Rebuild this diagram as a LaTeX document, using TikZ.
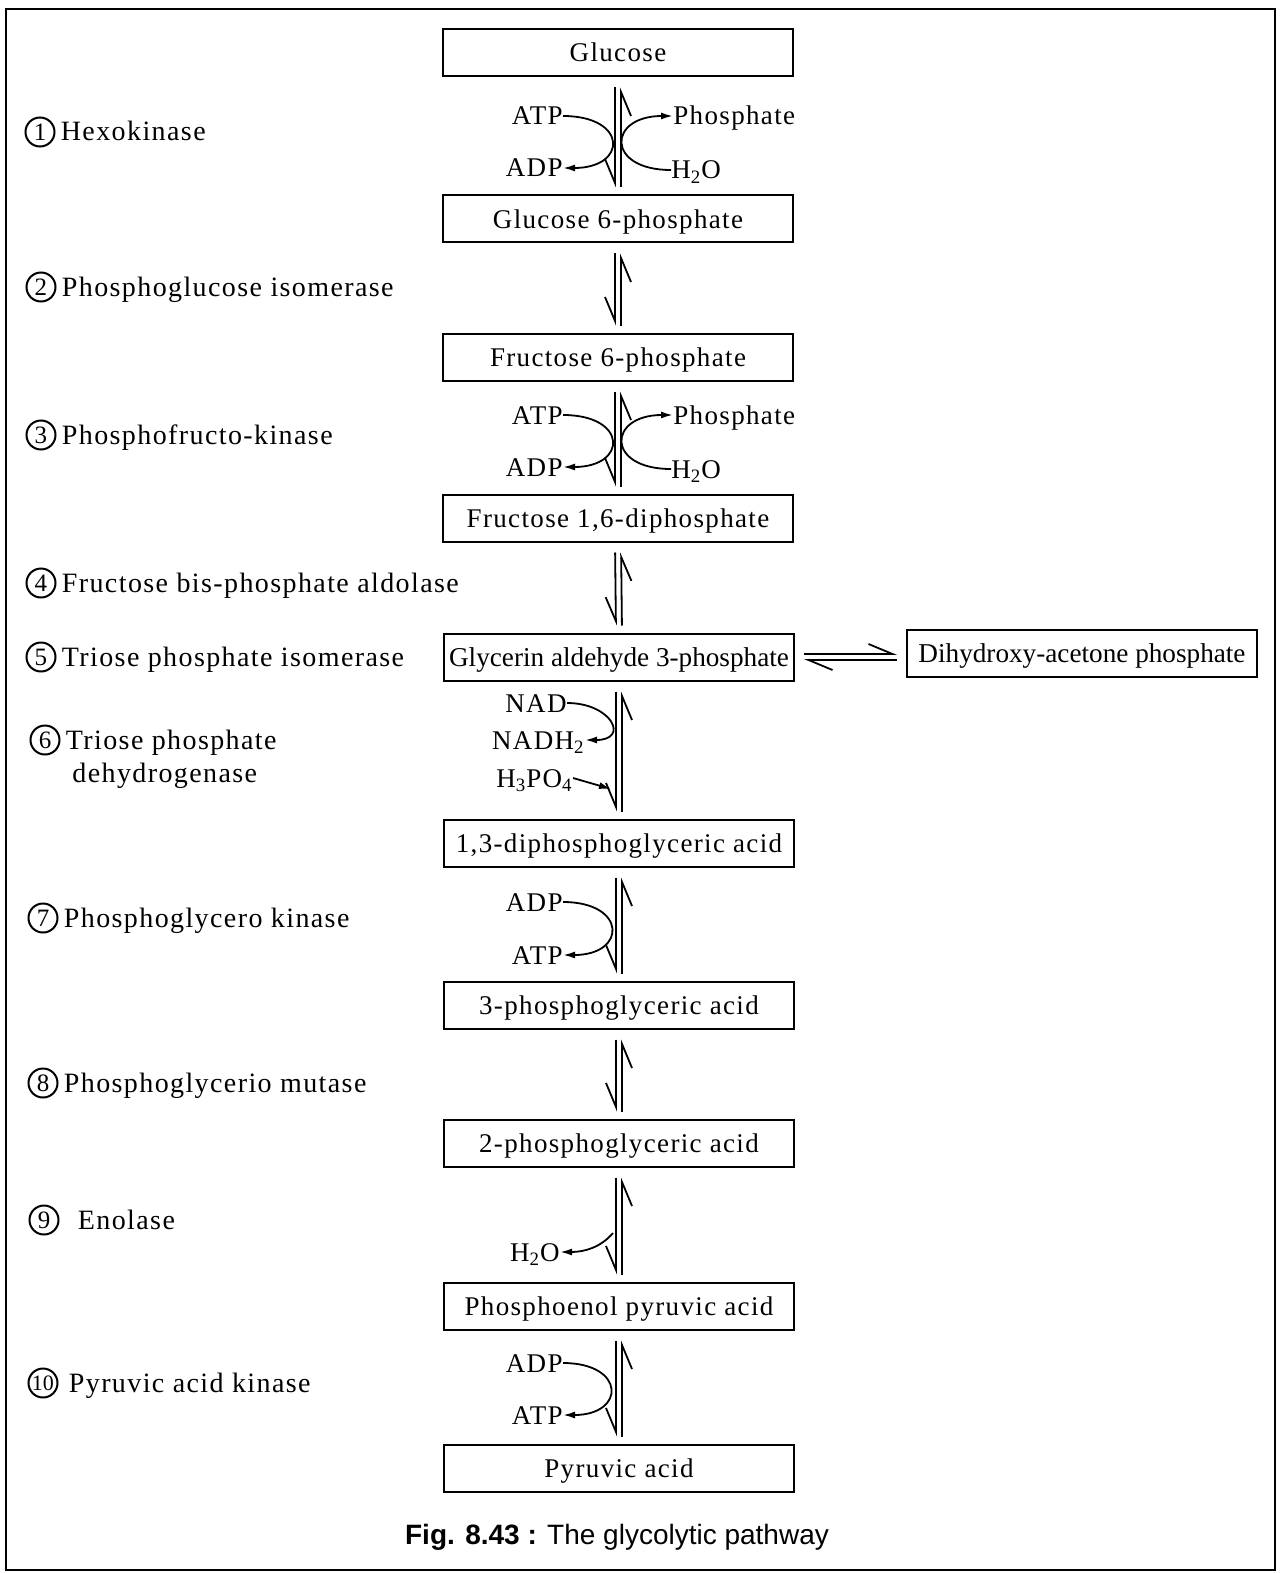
\documentclass[tikz,border=0pt]{standalone}
\usepackage{fontspec}
\setmainfont{Liberation Serif}
\newfontfamily\spaced[LetterSpace=5]{Liberation Serif}
\newfontfamily\capfont{Liberation Sans}
\usetikzlibrary{arrows.meta,positioning}

\begin{document}
\begin{tikzpicture}[x=0.5pt, y=-0.5pt,
  every node/.style={inner sep=0pt},
  box/.style={draw, line width=1pt, minimum width=175pt, minimum height=23.5pt, text height=10pt, text depth=1pt, font=\spaced\fontsize{13.5}{16}\selectfont},
  wide/.style={box, font=\fontsize{13.6}{16}\selectfont},
  lab/.style={text height=10pt, text depth=1pt, font=\spaced\fontsize{13.5}{16}\selectfont},
  enz/.style={lab, font=\spaced\fontsize{14}{16}\selectfont},
  num/.style={circle, draw, line width=1pt, minimum size=14.5pt, font=\fontsize{12.5}{12.5}\selectfont},
  fwd/.style={line width=0.9pt, shorten <=5pt, shorten >=3.5pt, -{Straight Barb[right, length=12pt, width=10pt]}},
  rev/.style={line width=0.9pt, shorten <=3.5pt, shorten >=5pt, -{Straight Barb[right, length=12pt, width=10pt]}},
  hor/.style={line width=0.9pt, shorten <=4.5pt, shorten >=4.5pt, -{Straight Barb[left, length=12pt, width=10pt]}},
  side/.style={line width=0.9pt, -{Latex[length=6pt, width=3.5pt]}}
]
\useasboundingbox (0,0) rectangle (1281,1573);
\draw[line width=1.2pt] (6,9) rectangle (1275,1570);

% metabolites
\node[box] (glc) at (618,53) {Glucose};
\node[box] (g6p) at (618,219) {Glucose 6-phosphate};
\node[box] (f6p) at (618,357) {Fructose 6-phosphate};
\node[box] (f16) at (618,518) {Fructose 1,6-diphosphate};
\node[wide] (ga3p) at (619,657) {Glycerin aldehyde 3-phosphate};
\node[wide] (dhap) at (1082,653) {Dihydroxy-acetone phosphate};
\node[box] (dpg) at (619,843) {1,3-diphosphoglyceric acid};
\node[box] (pg3) at (619,1005) {3-phosphoglyceric acid};
\node[box] (pg2) at (619,1143) {2-phosphoglyceric acid};
\node[box] (pep) at (619,1306) {Phosphoenol pyruvic acid};
\node[box] (pyr) at (619,1468) {Pyruvic acid};

% equilibrium arrows
\draw[fwd] ([xshift=-1.5pt]glc.south) -- ([xshift=-1.5pt]g6p.north);
\draw[rev] ([xshift=1.5pt]g6p.north) -- ([xshift=1.5pt]glc.south);
\draw[fwd] ([xshift=-1.5pt]g6p.south) -- ([xshift=-1.5pt]f6p.north);
\draw[rev] ([xshift=1.5pt]f6p.north) -- ([xshift=1.5pt]g6p.south);
\draw[fwd] ([xshift=-1.5pt]f6p.south) -- ([xshift=-1.5pt]f16.north);
\draw[rev] ([xshift=1.5pt]f16.north) -- ([xshift=1.5pt]f6p.south);
\draw[fwd] ([xshift=-1.5pt]f16.south) -- ([xshift=-1.5pt]ga3p.north);
\draw[rev] ([xshift=1.5pt]ga3p.north) -- ([xshift=1.5pt]f16.south);
\draw[fwd] ([xshift=-1.5pt]ga3p.south) -- ([xshift=-1.5pt]dpg.north);
\draw[rev] ([xshift=1.5pt]dpg.north) -- ([xshift=1.5pt]ga3p.south);
\draw[fwd] ([xshift=-1.5pt]dpg.south) -- ([xshift=-1.5pt]pg3.north);
\draw[rev] ([xshift=1.5pt]pg3.north) -- ([xshift=1.5pt]dpg.south);
\draw[fwd] ([xshift=-1.5pt]pg3.south) -- ([xshift=-1.5pt]pg2.north);
\draw[rev] ([xshift=1.5pt]pg2.north) -- ([xshift=1.5pt]pg3.south);
\draw[fwd] ([xshift=-1.5pt]pg2.south) -- ([xshift=-1.5pt]pep.north);
\draw[rev] ([xshift=1.5pt]pep.north) -- ([xshift=1.5pt]pg2.south);
\draw[fwd] ([xshift=-1.5pt]pep.south) -- ([xshift=-1.5pt]pyr.north);
\draw[rev] ([xshift=1.5pt]pyr.north) -- ([xshift=1.5pt]pep.south);
\draw[hor] ([yshift=1.5pt]ga3p.east) -- ([yshift=1.5pt]dhap.west |- ga3p.east);
\draw[hor] ([yshift=-1.5pt]dhap.west |- ga3p.east) -- ([yshift=-1.5pt]ga3p.east);

% side reactants
\node[lab, anchor=east] (atp1) at (563,116) {ATP};
\node[lab, anchor=east] (adp1) at (563,168) {ADP};
\node[lab, anchor=west] (pho1) at (673,116) {Phosphate};
\node[lab, anchor=west] (wat1) at (671,170) {H\textsubscript{2}O};
\draw[side] (atp1.east) to[out=0, in=0, looseness=3.2] (adp1.east);
\draw[side] (wat1.west) to[out=180, in=180, looseness=3.1] (pho1.west);

\node[lab, anchor=east] (atp3) at (563,415) {ATP};
\node[lab, anchor=east] (adp3) at (563,467) {ADP};
\node[lab, anchor=west] (pho3) at (673,415) {Phosphate};
\node[lab, anchor=west] (wat3) at (671,469) {H\textsubscript{2}O};
\draw[side] (atp3.east) to[out=0, in=0, looseness=3.2] (adp3.east);
\draw[side] (wat3.west) to[out=180, in=180, looseness=3.1] (pho3.west);

\node[lab, anchor=east] (nad) at (567,703) {NAD};
\node[lab, anchor=east] (nadh) at (585,740) {NADH\textsubscript{2}};
\node[lab, anchor=east] (hpo) at (573,778) {H\textsubscript{3}PO\textsubscript{4}};
\coordinate (h6) at (611,789);
\draw[side] (nad.east) to[out=0, in=0, looseness=2.8] (nadh.east);
\draw[side] (hpo.east) -- (h6);

\node[lab, anchor=east] (adp7) at (563,902) {ADP};
\node[lab, anchor=east] (atp7) at (563,955) {ATP};
\draw[side] (adp7.east) to[out=0, in=0, looseness=3.1] (atp7.east);

\node[lab, anchor=east] (wat9) at (560,1252) {H\textsubscript{2}O};
\coordinate (w9) at (613,1233);
\draw[side] (w9) .. controls +(-12,14) and +(25,0) .. (wat9.east);

\node[lab, anchor=east] (adp10) at (563,1363) {ADP};
\node[lab, anchor=east] (atp10) at (563,1415) {ATP};
\draw[side] (adp10.east) to[out=0, in=0, looseness=3.1] (atp10.east);

% enzymes
\node[num] (n1) at (40,132) {1};
\node[enz, right=2.5pt of n1] (e1) {Hexokinase};
\node[num] (n2) at (41,287) {2};
\node[enz, right=2.5pt of n2] (e2) {Phosphoglucose isomerase};
\node[num] (n3) at (41,435) {3};
\node[enz, right=2.5pt of n3] (e3) {Phosphofructo-kinase};
\node[num] (n4) at (41,583) {4};
\node[enz, right=2.5pt of n4] (e4) {Fructose bis-phosphate aldolase};
\node[num] (n5) at (41,657) {5};
\node[enz, right=2.5pt of n5] (e5) {Triose phosphate isomerase};
\node[num] (n6) at (45,740) {6};
\node[enz, right=2.5pt of n6] (e6) {Triose phosphate};
\node[enz, anchor=west] (e6b) at (72,773) {dehydrogenase};
\node[num] (n7) at (43,918) {7};
\node[enz, right=2.5pt of n7] (e7) {Phosphoglycero kinase};
\node[num] (n8) at (43,1083) {8};
\node[enz, right=2.5pt of n8] (e8) {Phosphoglycerio mutase};
\node[num] (n9) at (44,1220) {9};
\node[enz, right=9pt of n9] (e9) {Enolase};
\node[num, font=\fontsize{11}{11}\selectfont] (n10) at (43,1383) {10};
\node[enz, right=5pt of n10] (e10) {Pyruvic acid kinase};

\node[font=\capfont\fontsize{14}{16}\selectfont] (cap) at (617,1537) {\textbf{Fig. 8.43 :} The glycolytic pathway};
\end{tikzpicture}
\end{document}
